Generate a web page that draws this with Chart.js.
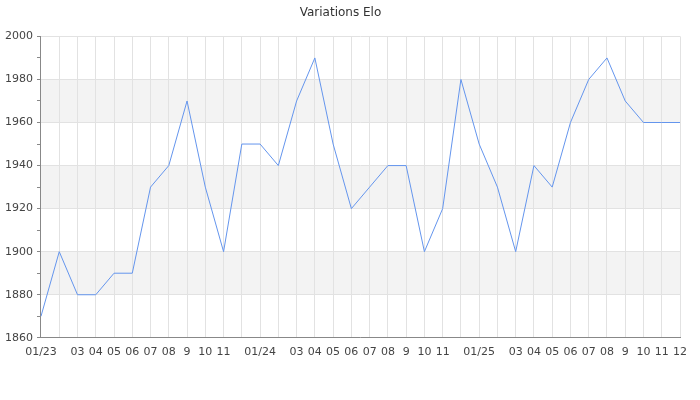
<!DOCTYPE html>
<html>
<head>
<meta charset="utf-8">
<script src="https://cdn.jsdelivr.net/npm/chart.js@4"></script>
<style>
html,body{margin:0;padding:0;background:#fff;}
#wrap{width:700px;height:400px;}
</style>
</head>
<body>
<div id="wrap"><canvas id="c" width="700" height="400"></canvas></div>
<script>
const months = [
  "2023-01","2023-02","2023-03","2023-04","2023-05","2023-06","2023-07","2023-08","2023-09","2023-10","2023-11","2023-12",
  "2024-01","2024-02","2024-03","2024-04","2024-05","2024-06","2024-07","2024-08","2024-09","2024-10","2024-11","2024-12",
  "2025-01","2025-02","2025-03","2025-04","2025-05","2025-06","2025-07","2025-08","2025-09","2025-10","2025-11","2025-12"
];
const eloValues = [
  1870,1900,1880,1880,1890,1890,1930,1940,1970,1930,1900,1950,
  1950,1940,1970,1990,1950,1920,1930,1940,1940,1900,1920,1980,
  1950,1930,1900,1940,1930,1960,1980,1990,1970,1960,1960,1960
];
const tickLabels = [
  "01/23","","03","04","05","06","07","08","9","10","11","",
  "01/24","","03","04","05","06","07","08","9","10","11","",
  "01/25","","03","04","05","06","07","08","9","10","11","12"
];
const yTickValues = [1860,1880,1900,1920,1940,1960,1980,2000];
const bandRanges = [[1880,1900],[1920,1940],[1960,1980]];

const bandPlugin = {
  id: 'bands',
  beforeDraw(chart) {
    const {ctx, chartArea, scales} = chart;
    ctx.save();
    ctx.fillStyle = '#f3f3f3';
    bandRanges.forEach(([a, b]) => {
      const y1 = scales.y.getPixelForValue(b);
      const y2 = scales.y.getPixelForValue(a);
      ctx.fillRect(chartArea.left, y1, chartArea.right - chartArea.left, y2 - y1);
    });
    ctx.restore();
  }
};

Chart.defaults.font.family = '"DejaVu Sans", sans-serif';
Chart.defaults.font.size = 11;
Chart.defaults.color = '#444';

new Chart(document.getElementById('c'), {
  type: 'line',
  data: {
    labels: months,
    datasets: [{
      data: eloValues,
      borderColor: '#6495ed',
      borderWidth: 1,
      pointRadius: 0,
      pointHoverRadius: 0,
      tension: 0,
      fill: false
    }]
  },
  options: {
    responsive: false,
    animation: false,
    layout: { padding: { left: 1, right: 20, top: 0, bottom: 33 } },
    plugins: {
      legend: { display: false },
      tooltip: { enabled: false },
      title: {
        display: true,
        text: 'Variations Elo',
        color: '#333',
        font: { size: 12, weight: 'normal' },
        padding: { top: 6, bottom: 16 }
      }
    },
    scales: {
      x: {
        type: 'category',
        offset: false,
        grid: { color: '#e2e2e2', drawTicks: false },
        border: { color: '#888' },
        ticks: {
          autoSkip: false,
          maxRotation: 0,
          padding: 8,
          callback: (v, i) => tickLabels[i]
        }
      },
      y: {
        min: 1860,
        max: 2000,
        grid: {
          color: c => (c.tick && c.tick.value % 20 === 0) ? '#e2e2e2' : 'rgba(0,0,0,0)',
          tickColor: '#888',
          tickLength: 4
        },
        border: { color: '#888' },
        ticks: {
          stepSize: 10,
          padding: 4,
          callback: v => yTickValues.includes(v) ? String(v) : ''
        }
      }
    }
  },
  plugins: [bandPlugin]
});
</script>
</body>
</html>
